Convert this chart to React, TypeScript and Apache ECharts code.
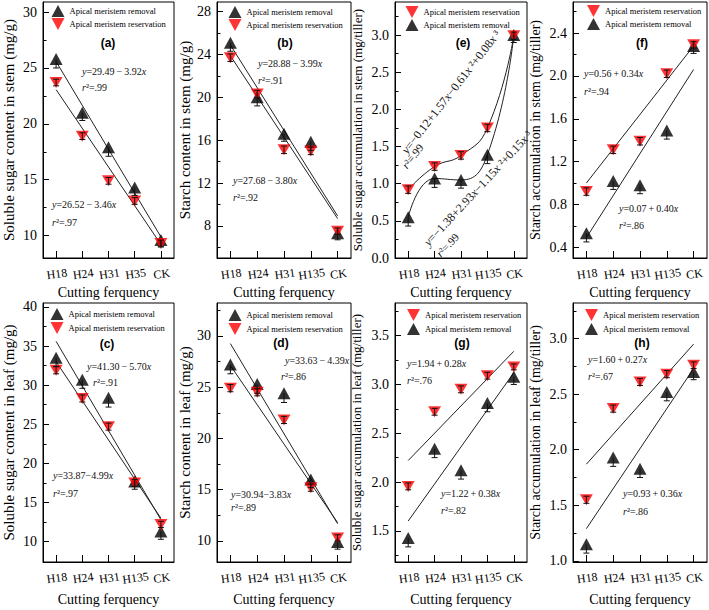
import React, { useEffect, useRef } from 'react';
import * as echarts from 'echarts';

const SERIF = 'Liberation Serif, Times New Roman, Times, serif';
const SANS = 'Liberation Sans, Arial, Helvetica, sans-serif';
const REM = 'Apical meristem removal';
const RES = 'Apical meristem reservation';

// category labels (panel a uses H35, the others H135)
const catsA = ['H18', 'H24', 'H31', 'H35', 'CK'];
const cats = ['H18', 'H24', 'H31', 'H135', 'CK'];
const xPos = [1, 2, 3, 4, 5];

// (a) soluble sugar content in stem
const aRemoval = [25.8, 21.0, 17.9, 14.3, 9.6];
const aReservation = [23.7, 18.9, 14.9, 13.1, 9.3];
const aRemovalErr = [0.8, 0.7, 0.8, 0.7, 0.6];
const aReservationErr = [0.3, 0.3, 0.3, 0.3, 0.3];
const aRemovalFit = [25.57, 9.89];
const aReservationFit = [23.06, 9.22];
const aTicks = [10, 15, 20, 25, 30];
const aMinor = [12.5, 17.5, 22.5, 27.5];

// (b) starch content in stem
const bRemoval = [25.1, 20.0, 16.6, 15.85, 7.3];
const bReservation = [23.7, 20.3, 15.1, 15.0, 7.5];
const bRemovalErr = [0.8, 0.8, 0.7, 0.8, 0.6];
const bReservationErr = [0.35, 0.35, 0.35, 0.35, 0.3];
const bRemovalFit = [24.89, 8.93];
const bReservationFit = [23.88, 8.68];
const bTicks = [8, 12, 16, 20, 24, 28];
const bMinor = [6, 10, 14, 18, 22, 26];

// (e) soluble sugar accumulation in stem
const eRemoval = [0.55, 1.07, 1.05, 1.39, 3.0];
const eReservation = [0.92, 1.23, 1.38, 1.75, 2.99];
const eRemovalErr = [0.12, 0.12, 0.11, 0.12, 0.1];
const eReservationErr = [0.05, 0.05, 0.05, 0.05, 0.05];
const eTicks = [0, 0.5, 1.0, 1.5, 2.0, 2.5, 3.0];
const eMinor = [0.25, 0.75, 1.25, 1.75, 2.25, 2.75, 3.25];

// (f) starch accumulation in stem
const fRemoval = [0.53, 1.02, 0.98, 1.49, 2.28];
const fReservation = [0.92, 1.31, 1.39, 2.02, 2.29];
const fRemovalErr = [0.08, 0.08, 0.08, 0.08, 0.07];
const fReservationErr = [0.035, 0.035, 0.035, 0.035, 0.03];
const fRemovalFit = [0.49, 2.06];
const fReservationFit = [1.0, 2.28];
const fTicks = [0.4, 0.8, 1.2, 1.6, 2.0, 2.4];
const fMinor = [0.6, 1.0, 1.4, 1.8, 2.2, 2.6];

// (c) soluble sugar content in leaf
const cRemoval = [33.5, 30.7, 28.4, 17.7, 11.3];
const cReservation = [31.9, 28.3, 24.7, 17.5, 12.2];
const cRemovalErr = [1.1, 1.1, 1.2, 1.0, 1.0];
const cReservationErr = [0.45, 0.45, 0.45, 0.45, 0.4];
const cRemovalFit = [35.6, 12.8];
const cReservationFit = [33.0, 13.0];
const cTicks = [10, 15, 20, 25, 30, 35, 40];
const cMinor = [12.5, 17.5, 22.5, 27.5, 32.5, 37.5];

// (d) starch content in leaf
const dRemoval = [27.2, 25.3, 24.4, 16.0, 9.9];
const dReservation = [24.9, 24.5, 21.8, 15.2, 10.3];
const dRemovalErr = [0.9, 0.9, 0.9, 0.8, 0.7];
const dReservationErr = [0.35, 0.35, 0.35, 0.35, 0.3];
const dRemovalFit = [29.24, 11.68];
const dReservationFit = [27.11, 11.79];
const dTicks = [10, 15, 20, 25, 30];
const dMinor = [12.5, 17.5, 22.5, 27.5, 32.5];

// (g) soluble sugar accumulation in leaf
const gRemoval = [1.425, 2.34, 2.12, 2.81, 3.08];
const gReservation = [1.955, 2.72, 2.95, 3.09, 3.18];
const gRemovalErr = [0.09, 0.09, 0.09, 0.09, 0.08];
const gReservationErr = [0.035, 0.035, 0.035, 0.035, 0.03];
const gRemovalFit = [1.6, 3.12];
const gReservationFit = [2.22, 3.34];
const gTicks = [1.5, 2.0, 2.5, 3.0, 3.5];
const gMinor = [1.25, 1.75, 2.25, 2.75, 3.25, 3.75];

// (h) starch accumulation in leaf
const hRemoval = [1.15, 1.93, 1.83, 2.52, 2.7];
const hReservation = [1.55, 2.37, 2.61, 2.68, 2.76];
const hRemovalErr = [0.08, 0.08, 0.08, 0.08, 0.07];
const hReservationErr = [0.032, 0.032, 0.032, 0.032, 0.03];
const hRemovalFit = [1.29, 2.73];
const hReservationFit = [1.87, 2.95];
const hTicks = [1.0, 1.5, 2.0, 2.5, 3.0];
const hMinor = [1.25, 1.75, 2.25, 2.75, 3.25];

const COLS = [[40, 174], [217, 351], [395, 527], [573, 707]];
const ROWS = [[2, 258], [303, 562]];
const DOWN = 'path://M0,0L10,0L5,10Z';
const TS = '\u2009';

type Eq = [string, number, number, number?, number?];

const panels = [
  {
    cats: catsA, removal: aRemoval, reservation: aReservation, remErr: aRemovalErr, resErr: aReservationErr,
    remFit: aRemovalFit, resFit: aReservationFit, ticks: aTicks, minor: aMinor, min: 8.0, max: 30.9, dec: 0,
    yName: 'Soluble sugar content in stem (mg/g)', nameSize: 15, nameGap: 27, col: 0, row: 0,
    order: [REM, RES], legend: [51.5, 5], label: ['(a)', 108, 43], curve: false,
    eqs: [['{i|y}=29.49' + TS + '−' + TS + '3.92{i|x}', 82, 71], ['{i|r}²=.99', 82, 87], ['{i|y}=26.52' + TS + '−' + TS + '3.46{i|x}', 52, 204], ['{i|r}²=.97', 52, 222]] as Eq[],
  },
  {
    cats, removal: bRemoval, reservation: bReservation, remErr: bRemovalErr, resErr: bReservationErr,
    remFit: bRemovalFit, resFit: bReservationFit, ticks: bTicks, minor: bMinor, min: 5.0, max: 28.9, dec: 0,
    yName: 'Starch content in stem (mg/g)', nameSize: 15, nameGap: 25, col: 1, row: 0,
    order: [REM, RES], legend: [228.5, 6], label: ['(b)', 285, 43], curve: false,
    eqs: [['{i|y}=28.88' + TS + '−' + TS + '3.99{i|x}', 258, 63], ['{i|r}²=.91', 258, 80], ['{i|y}=27.68' + TS + '−' + TS + '3.80{i|x}', 233, 180], ['{i|r}²=.92', 233, 197]] as Eq[],
  },
  {
    cats, removal: eRemoval, reservation: eReservation, remErr: eRemovalErr, resErr: eReservationErr,
    remFit: null, resFit: null, ticks: eTicks, minor: eMinor, min: 0, max: 3.445, dec: 1,
    yName: 'Soluble sugar accumulation in stem (mg/tiller)', nameSize: 13, nameGap: 31, col: 2, row: 0,
    order: [RES, REM], legend: [405.5, 6], label: ['(e)', 463, 43], curve: true,
    eqs: [
      ['{i|y}=−0.12+1.57{i|x}−0.61{i|x} ²+0.08{i|x} ³', 404, 152, 12, 52],
      ['{i|r}²=.99', 404, 167, 11, 52],
      ['{i|y}=−1.38+2.93{i|x}−1.15{i|x} ²+0.15{i|x} ³', 426, 244, 12, 47],
      ['{i|r}²=.99', 438, 255, 11, 47],
    ] as Eq[],
  },
  {
    cats, removal: fRemoval, reservation: fReservation, remErr: fRemovalErr, resErr: fReservationErr,
    remFit: fRemovalFit, resFit: fReservationFit, ticks: fTicks, minor: fMinor, min: 0.3, max: 2.69, dec: 1,
    yName: 'Starch accumulation in stem (mg/tiller)', nameSize: 14, nameGap: 31, col: 3, row: 0,
    order: [RES, REM], legend: [587, 5], label: ['(f)', 642, 43], curve: false,
    eqs: [['{i|y}=0.56' + TS + '+' + TS + '0.34{i|x}', 584, 73], ['{i|r}²=.94', 584, 91], ['{i|y}=0.07' + TS + '+' + TS + '0.40{i|x}', 619, 208], ['{i|r}²=.86', 619, 225]] as Eq[],
  },
  {
    cats, removal: cRemoval, reservation: cReservation, remErr: cRemovalErr, resErr: cReservationErr,
    remFit: cRemovalFit, resFit: cReservationFit, ticks: cTicks, minor: cMinor, min: 7.4, max: 40.5, dec: 0,
    yName: 'Soluble sugar content in leaf (mg/g)', nameSize: 15, nameGap: 27, col: 0, row: 1,
    order: [REM, RES], legend: [50.5, 308], label: ['(c)', 107, 344], curve: false,
    eqs: [['{i|y}=41.30' + TS + '−' + TS + '5.70{i|x}', 87, 366], ['{i|r}²=.91', 93, 382], ['{i|y}=33.87−4.99{i|x}', 53, 475], ['{i|r}²=.97', 53, 493]] as Eq[],
  },
  {
    cats, removal: dRemoval, reservation: dReservation, remErr: dRemovalErr, resErr: dReservationErr,
    remFit: dRemovalFit, resFit: dReservationFit, ticks: dTicks, minor: dMinor, min: 7.95, max: 33.2, dec: 0,
    yName: 'Starch content in leaf (mg/g)', nameSize: 15, nameGap: 25, col: 1, row: 1,
    order: [REM, RES], legend: [228.5, 309], label: ['(d)', 281, 343], curve: false,
    eqs: [['{i|y}=33.63' + TS + '−' + TS + '4.39{i|x}', 285, 360], ['{i|r}²=.86', 281, 376], ['{i|y}=30.94−3.83{i|x}', 231, 494], ['{i|r}²=.89', 231, 507]] as Eq[],
  },
  {
    cats, removal: gRemoval, reservation: gReservation, remErr: gRemovalErr, resErr: gReservationErr,
    remFit: gRemovalFit, resFit: gReservationFit, ticks: gTicks, minor: gMinor, min: 1.18, max: 3.835, dec: 1,
    yName: 'Soluble sugar accumulation in leaf (mg/tiller)', nameSize: 13, nameGap: 32, col: 2, row: 1,
    order: [RES, REM], legend: [407, 309], label: ['(g)', 462, 343], curve: false,
    eqs: [['{i|y}=1.94' + TS + '+' + TS + '0.28{i|x}', 407, 363], ['{i|r}²=.76', 407, 380], ['{i|y}=1.22' + TS + '+' + TS + '0.38{i|x}', 441, 493], ['{i|r}²=.82', 441, 510]] as Eq[],
  },
  {
    cats, removal: hRemoval, reservation: hReservation, remErr: hRemovalErr, resErr: hReservationErr,
    remFit: hRemovalFit, resFit: hReservationFit, ticks: hTicks, minor: hMinor, min: 0.99, max: 3.32, dec: 1,
    yName: 'Starch accumulation in leaf (mg/tiller)', nameSize: 14, nameGap: 31, col: 3, row: 1,
    order: [RES, REM], legend: [585, 309], label: ['(h)', 642, 343], curve: false,
    eqs: [['{i|y}=1.60' + TS + '+' + TS + '0.27{i|x}', 588, 359], ['{i|r}²=.67', 588, 376], ['{i|y}=0.93' + TS + '+' + TS + '0.36{i|x}', 623, 493], ['{i|r}²=.86', 623, 511]] as Eq[],
  },
];

function errorBars(params: any, api: any) {
  const x = api.value(0);
  const y = api.value(1);
  const lo = api.value(2);
  const hi = api.value(3);
  const top = api.coord([x, y + hi]);
  const bot = api.coord([x, y - lo]);
  const st = { stroke: '#111', lineWidth: 1 };
  const cap = 3;
  const children: any[] = [
    { type: 'line', shape: { x1: top[0], y1: top[1], x2: bot[0], y2: bot[1] }, style: st },
  ];
  if (lo > 0) children.push({ type: 'line', shape: { x1: bot[0] - cap, y1: bot[1], x2: bot[0] + cap, y2: bot[1] }, style: st });
  if (hi > 0) children.push({ type: 'line', shape: { x1: top[0] - cap, y1: top[1], x2: top[0] + cap, y2: top[1] }, style: st });
  return { type: 'group', children };
}

function buildOption() {
  const grid: any[] = [];
  const xAxis: any[] = [];
  const yAxis: any[] = [];
  const series: any[] = [];
  const legend: any[] = [];
  const graphic: any[] = [];

  panels.forEach((p, i) => {
    const [l, r] = COLS[p.col];
    const [t, b] = ROWS[p.row];
    grid.push({ left: l, top: t, width: r - l, height: b - t, show: true, borderColor: '#000', borderWidth: 1, backgroundColor: 'transparent' });
    xAxis.push({
      type: 'value', gridIndex: i, min: 0.5, max: 5.5, position: 'bottom',
      axisLine: { show: true, onZero: false, lineStyle: { color: '#000', width: 1 } },
      axisTick: { show: true, inside: true, length: 7, customValues: xPos, lineStyle: { color: '#000' } },
      axisLabel: {
        customValues: xPos, formatter: (v: number) => p.cats[Math.round(v) - 1] || '',
        rotate: 8, align: 'center', verticalAlign: 'top', margin: 10,
        fontFamily: SERIF, fontSize: 12, color: '#000',
      },
      splitLine: { show: false },
      name: 'Cutting ferquency', nameLocation: 'middle', nameGap: p.row === 0 ? 27 : 30,
      nameTextStyle: { fontFamily: SERIF, fontSize: 14, color: '#000' },
    });
    yAxis.push({
      type: 'value', gridIndex: i, min: p.min, max: p.max, position: 'left',
      axisLine: { show: true, onZero: false, lineStyle: { color: '#000', width: 1 } },
      axisTick: { show: true, inside: true, length: 6, customValues: p.ticks, lineStyle: { color: '#000' } },
      axisLabel: {
        customValues: p.ticks, formatter: (v: number) => v.toFixed(p.dec),
        fontFamily: SERIF, fontSize: 14, color: '#000', margin: 6,
      },
      splitLine: { show: false },
      name: p.yName, nameLocation: 'middle', nameGap: p.nameGap,
      nameTextStyle: { fontFamily: SERIF, fontSize: p.nameSize, color: '#000' },
    });
    yAxis.push({
      type: 'value', gridIndex: i, min: p.min, max: p.max, position: 'left',
      axisLine: { show: false, onZero: false },
      axisTick: { show: true, inside: true, length: 3.5, customValues: p.minor, lineStyle: { color: '#000' } },
      axisLabel: { show: false },
      splitLine: { show: false },
    });
    const yi = 2 * i;
    const remPts = xPos.map((x, j) => [x, p.removal[j]]);
    const resPts = xPos.map((x, j) => [x, p.reservation[j]]);
    const lineStyle = { color: '#222', width: 1 };
    if (p.curve) {
      series.push({ type: 'line', name: 'curve-rem-' + i, xAxisIndex: i, yAxisIndex: yi, data: remPts, smooth: 0.5, symbol: 'none', lineStyle, z: 2, silent: true });
      series.push({ type: 'line', name: 'curve-res-' + i, xAxisIndex: i, yAxisIndex: yi, data: resPts, smooth: 0.5, symbol: 'none', lineStyle, z: 2, silent: true });
    } else {
      series.push({ type: 'line', name: 'fit-rem-' + i, xAxisIndex: i, yAxisIndex: yi, data: [[1, p.remFit![0]], [5, p.remFit![1]]], symbol: 'none', lineStyle, z: 2, silent: true });
      series.push({ type: 'line', name: 'fit-res-' + i, xAxisIndex: i, yAxisIndex: yi, data: [[1, p.resFit![0]], [5, p.resFit![1]]], symbol: 'none', lineStyle, z: 2, silent: true });
    }
    series.push({ type: 'scatter', name: REM, xAxisIndex: i, yAxisIndex: yi, data: remPts, symbol: 'triangle', symbolSize: [13, 12], itemStyle: { color: '#000' }, z: 3 });
    series.push({ type: 'scatter', name: RES, xAxisIndex: i, yAxisIndex: yi, data: resPts, symbol: DOWN, symbolSize: [13, 11], itemStyle: { color: '#ff0000' }, z: 4 });
    series.push({ type: 'custom', name: 'err-rem-' + i, xAxisIndex: i, yAxisIndex: yi, renderItem: errorBars, encode: { x: 0, y: 1 }, data: xPos.map((x, j) => [x, p.removal[j], p.remErr[j], 0]), z: 5, silent: true });
    series.push({ type: 'custom', name: 'err-res-' + i, xAxisIndex: i, yAxisIndex: yi, renderItem: errorBars, encode: { x: 0, y: 1 }, data: xPos.map((x, j) => [x, p.reservation[j], p.resErr[j], p.resErr[j]]), z: 5, silent: true });

    legend.push({
      left: p.legend[0], top: p.legend[1], orient: 'vertical', padding: 0,
      itemWidth: 13, itemHeight: 12, itemGap: p.row === 0 ? 1 : 2, symbolKeepAspect: false,
      selectedMode: false, data: p.order,
      textStyle: { fontFamily: SERIF, fontSize: 8.5, color: '#000' },
    });

    graphic.push({
      type: 'text', x: p.label[1] as number, y: p.label[2] as number, z: 10,
      style: { text: p.label[0] as string, fontFamily: SANS, fontWeight: 'bold', fontSize: 12, fill: '#000', align: 'center', verticalAlign: 'middle', textAlign: 'center', textVerticalAlign: 'middle' },
    });
    p.eqs.forEach((e) => {
      const size = e[3] ?? 10;
      graphic.push({
        type: 'text', x: e[1], y: e[2], rotation: ((e[4] ?? 0) * Math.PI) / 180, z: 10,
        style: {
          text: e[0], fontFamily: SERIF, fontSize: size, fill: '#111',
          align: 'left', verticalAlign: 'middle', textAlign: 'left', textVerticalAlign: 'middle',
          rich: { i: { fontStyle: 'italic', fontFamily: SERIF, fontSize: size, fill: '#111' } },
        },
      });
    });
  });

  return {
    animation: false,
    backgroundColor: '#fff',
    textStyle: { fontFamily: SERIF },
    grid, xAxis, yAxis, series, legend, graphic,
  };
}

export default function App() {
  const ref = useRef<HTMLDivElement>(null);
  useEffect(() => {
    if (!ref.current) return;
    const chart = echarts.init(ref.current, undefined, { renderer: 'svg' });
    chart.setOption(buildOption() as any);
    return () => chart.dispose();
  }, []);
  return <div ref={ref} style={{ position: 'absolute', left: 0, top: 0, width: 709, height: 610, background: '#fff' }} />;
}
